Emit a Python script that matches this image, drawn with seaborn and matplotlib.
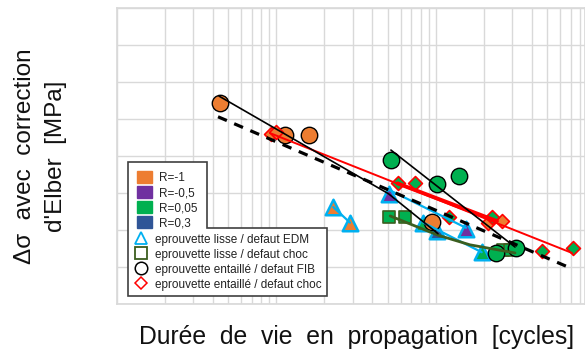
import seaborn as sns
import matplotlib.pyplot as plt
from matplotlib.lines import Line2D
from matplotlib.patches import Patch, Polygon
from matplotlib.transforms import IdentityTransform

# couleurs (palette Excel)
ORANGE = '#ED7D31'
VIOLET = '#7030A0'
VERT = '#00B050'
BLEU = '#2F5597'
CYAN = '#00B0F0'
VERT_FONCE = '#3B5E1F'
ROUGE = '#FF0000'

# ---- points : N [cycles], delta sigma [MPa] ----
# R=-1
r1_fib_n = [44000, 113000, 160000, 940000]
r1_fib_s = [272, 228, 228, 111]
r1_choc_n = [93000, 100000, 2120000, 2580000]
r1_choc_s = [230, 233, 110, 112]
r1_edm_n = [227000, 289000]
r1_edm_s = [131, 110]
# R=-0,5
r05_edm_n = [504000, 1535000]
r05_edm_s = [149, 102]
# R=0,05
r005_fib_n = [522000, 1010000, 1387000, 2377000, 3198000]
r005_fib_s = [195, 162, 173, 69, 76]
r005_choc_n = [574000, 744000, 1202000, 2234000, 4600000, 7226000]
r005_choc_s = [163, 163, 117, 118, 72, 76]
r005_lisse_n = [510000, 639000, 2630000, 2911000]
r005_lisse_s = [117, 117, 73, 73]
r005_edm_n = [832000, 1935000]
r005_edm_s = [110, 70]
# R=0,3
r03_edm_n = [1010000]
r03_edm_s = [99]

# ---- droites de tendance ----
fit_r1_fib_n = [43600, 504000, 1030000]
fit_r1_fib_s = [281, 149, 95]
fit_r005_fib_n = [522000, 3130000]
fit_r005_fib_s = [208, 77]
fit_choc_n = [91000, 7125000]
fit_choc_s = [231, 69]
fit_choc2_n = [574000, 2412000]
fit_choc2_s = [163, 112]
fit_tous_n = [43000, 6730000]
fit_tous_s = [253, 50]
fit_edm_r05_n = [510000, 1542000]
fit_edm_r05_s = [154, 103]
fit_edm_r005_n = [832000, 1935000]
fit_edm_r005_s = [110, 70]
fit_edm_r1_n = [227000, 289000]
fit_edm_r1_s = [131, 110]
fit_lisse_n = [516000, 1030000, 1633000, 3130000]
fit_lisse_s = [119, 93, 80, 69]

legende_r = ['R=-1', 'R=-0,5', 'R=0,05', 'R=0,3']
couleurs_r = [ORANGE, VIOLET, VERT, BLEU]
legende_type = ['eprouvette lisse / defaut EDM', 'eprouvette lisse / defaut choc',
                'eprouvette entaillé / defaut FIB', 'eprouvette entaillé / defaut choc']

sns.set_theme(style='whitegrid')
plt.rcParams['font.family'] = ['Liberation Sans', 'DejaVu Sans']

fig = plt.figure(figsize=(5.85, 3.62), dpi=100)
ax = fig.add_axes([0.2, 0.1602, 0.8, 0.8177])
ax.set_xscale('log')
ax.set_xlim(1e4, 8.6e6)
ax.set_ylim(0, 400)
ax.set_yticks(range(0, 401, 50))
ax.grid(True, which='both', color='#D9D9D9', lw=1)
ax.tick_params(which='both', length=0, labelleft=False, labelbottom=False)
for sp in ax.spines.values():
    sp.set_color('#D9D9D9')
ax.set_facecolor('white')


def points(n, s, marker, size, face, edge, lw):
    sns.scatterplot(x=n, y=s, marker=marker, s=size, color=face, edgecolor=edge,
                    linewidth=lw, ax=ax, zorder=2, legend=False)


def droite(n, s, color, lw, ls='-'):
    sns.lineplot(x=n, y=s, color=color, lw=lw, linestyle=ls, sort=False,
                 estimator=None, ax=ax, zorder=3, legend=False)


# triangles : eprouvette lisse / EDM
points(r1_edm_n, r1_edm_s, '^', 125, ORANGE, CYAN, 1.8)
points(r05_edm_n, r05_edm_s, '^', 125, VIOLET, CYAN, 1.8)
points(r005_edm_n, r005_edm_s, '^', 125, VERT, CYAN, 1.8)
points(r03_edm_n, r03_edm_s, '^', 125, BLEU, CYAN, 1.8)
# carres : eprouvette lisse / choc
points(r005_lisse_n, r005_lisse_s, 's', 80, VERT, VERT_FONCE, 1.2)
# cercles : entaille / FIB
points(r1_fib_n, r1_fib_s, 'o', 140, ORANGE, 'black', 1.0)
points(r005_fib_n, r005_fib_s, 'o', 140, VERT, 'black', 1.0)
# losanges : entaille / choc
points(r1_choc_n, r1_choc_s, 'D', 50, ORANGE, ROUGE, 1.2)
points(r005_choc_n, r005_choc_s, 'D', 50, VERT, ROUGE, 1.2)

droite(fit_edm_r1_n, fit_edm_r1_s, CYAN, 1.6)
droite(fit_edm_r05_n, fit_edm_r05_s, CYAN, 1.6)
droite(fit_edm_r005_n, fit_edm_r005_s, CYAN, 1.6)
droite(fit_lisse_n, fit_lisse_s, VERT_FONCE, 2.0)
droite(fit_choc_n, fit_choc_s, ROUGE, 1.4)
droite(fit_choc2_n, fit_choc2_s, ROUGE, 2.8)
droite(fit_r1_fib_n, fit_r1_fib_s, 'black', 1.2)
droite(fit_r005_fib_n, fit_r005_fib_s, 'black', 1.2)
droite(fit_tous_n, fit_tous_s, 'black', 2.3, (0, (3, 2.5)))

# titres des axes
fig.text(0.609, 0.069, 'Durée  de  vie  en  propagation  [cycles]', fontsize=17.8,
         color='#111111', ha='center', va='center')
fig.text(0.069, 0.569, 'Δσ  avec  correction\nd\'Elber  [MPa]', fontsize=17.5,
         color='#111111', ha='center', va='center', rotation=90, linespacing=1.5,
         multialignment='center')

# legende en L
h1 = [Patch(facecolor=c, edgecolor=c) for c in couleurs_r]
h2 = [Line2D([], [], ls='', marker='^', ms=9, mfc='none', mec=CYAN, mew=1.3),
      Line2D([], [], ls='', marker='s', ms=8, mfc='none', mec=VERT_FONCE, mew=1.3),
      Line2D([], [], ls='', marker='o', ms=9, mfc='none', mec='black', mew=1.1),
      Line2D([], [], ls='', marker='D', ms=6.5, mfc='none', mec=ROUGE, mew=1.1)]
opts = dict(frameon=False, fontsize=8.5, labelspacing=0.2, handlelength=1.25,
            handleheight=1.1, handletextpad=0.6, borderaxespad=0)
leg1 = ax.legend(h1, legende_r, loc='upper left', bbox_to_anchor=(0.0235, 0.48),
                 borderpad=0.8, **opts)
ax.add_artist(leg1)
leg2 = ax.legend(h2, legende_type, loc='upper left', bbox_to_anchor=(0.0235, 0.257),
                 borderpad=0.45, **opts)
for lg in (leg1, leg2):
    lg.set_zorder(6)
    for t in lg.get_texts():
        t.set_color('#222222')

fig.canvas.draw()
b1 = leg1.get_window_extent()
b2 = leg2.get_window_extent()
x0 = min(b1.x0, b2.x0)
cadre = Polygon([(x0, b1.y1), (b1.x1, b1.y1), (b1.x1, b2.y1), (b2.x1, b2.y1),
                 (b2.x1, b2.y0), (x0, b2.y0)], closed=True, facecolor='white',
                edgecolor='#404040', lw=1.2, transform=IdentityTransform(), zorder=5)
ax.add_artist(cadre)

fig.savefig('out.png', dpi=100)
